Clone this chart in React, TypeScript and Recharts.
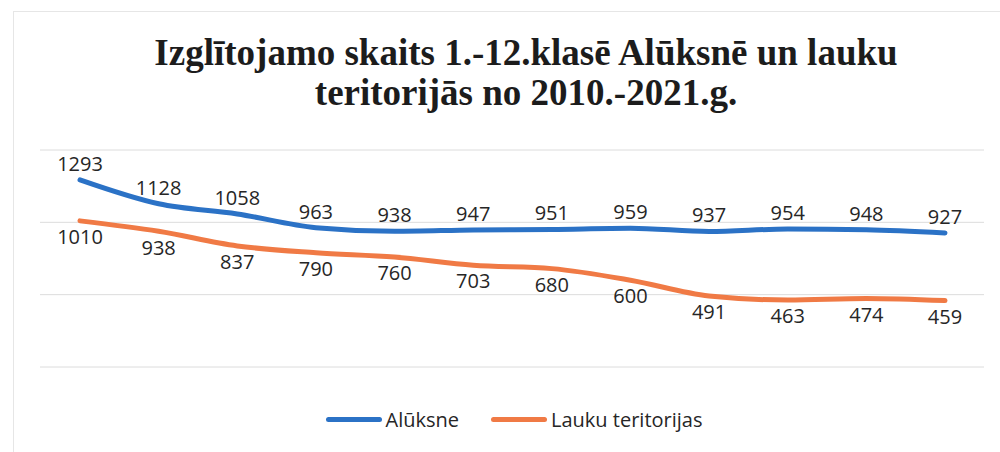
import { LineChart, Line, XAxis, YAxis, CartesianGrid, LabelList } from "recharts";

// school years shown on the (hidden) category axis
const years = ["2010", "2011", "2012", "2013", "2014", "2015", "2016", "2017", "2018", "2019", "2020", "2021"];
const aluksne = [1293, 1128, 1058, 963, 938, 947, 951, 959, 937, 954, 948, 927];
const lauku = [1010, 938, 837, 790, 760, 703, 680, 600, 491, 463, 474, 459];
const yTicks = [0, 500, 1000, 1500];

const data = years.map((year, i) => ({ year, aluksne: aluksne[i], lauku: lauku[i] }));

const BLUE = "#2b72c6";
const ORANGE = "#f07a45";
const labelFont = { fontFamily: "'Open Sans', sans-serif", fontSize: 20, fill: "#262626" };

const legendItems = [
  { name: "Alūksne", color: BLUE },
  { name: "Lauku teritorijas", color: ORANGE },
];

function ChartLegend() {
  return (
    <div style={{ display: "flex", justifyContent: "center", gap: 32, fontFamily: "'Open Sans', sans-serif", fontSize: 20, color: "#262626" }}>
      {legendItems.map((item) => (
        <div key={item.name} style={{ display: "flex", alignItems: "center" }}>
          <span style={{ display: "inline-block", width: 56, height: 5, borderRadius: 3, background: item.color, marginRight: 4 }} />
          <span>{item.name}</span>
        </div>
      ))}
    </div>
  );
}

export default function App() {
  return (
    <div style={{ position: "absolute", left: 0, top: 0, width: 1000, height: 452, background: "#fff", overflow: "hidden" }}>
      <div style={{ position: "absolute", left: 13, top: 11, width: 1000, height: 460, border: "1px solid #e6e6e6" }} />
      <div
        style={{
          position: "absolute",
          left: 0,
          top: 33,
          width: 1052,
          textAlign: "center",
          fontFamily: "'Liberation Serif', 'Times New Roman', serif",
          fontWeight: "bold",
          fontSize: 37,
          lineHeight: "40px",
          color: "#1c1c1c",
        }}
      >
        <div>Izglītojamo skaits 1.-12.klasē Alūksnē un lauku</div>
        <div>teritorijās no 2010.-2021.g.</div>
      </div>
      <div style={{ position: "absolute", left: 0, top: 0 }}>
        <LineChart width={1000} height={452} data={data} margin={{ top: 150, right: 16, bottom: 85, left: 40 }}>
          <CartesianGrid vertical={false} stroke="#dcdcdc" strokeWidth={1} />
          <XAxis dataKey="year" hide padding={{ left: 40, right: 39 }} />
          <YAxis hide domain={[0, 1500]} ticks={yTicks} />
          <Line
            type="monotone"
            dataKey="aluksne"
            name="Alūksne"
            stroke={BLUE}
            strokeWidth={5}
            strokeLinecap="round"
            dot={false}
            isAnimationActive={false}
          >
            <LabelList dataKey="aluksne" position="top" offset={9} style={labelFont} />
          </Line>
          <Line
            type="monotone"
            dataKey="lauku"
            name="Lauku teritorijas"
            stroke={ORANGE}
            strokeWidth={5}
            strokeLinecap="round"
            dot={false}
            isAnimationActive={false}
          >
            <LabelList dataKey="lauku" position="bottom" offset={9} style={labelFont} />
          </Line>
        </LineChart>
      </div>
      <div style={{ position: "absolute", left: 0, top: 406, width: 1028 }}>
        <ChartLegend />
      </div>
    </div>
  );
}
